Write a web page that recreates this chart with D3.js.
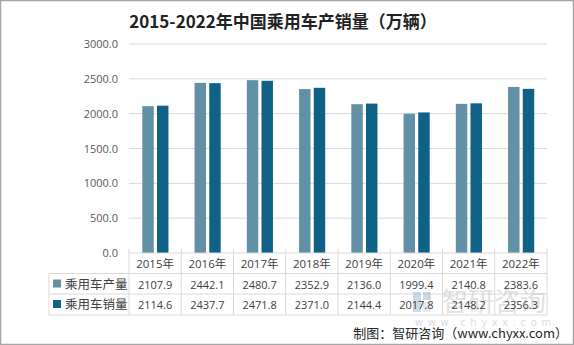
<!DOCTYPE html>
<html><head><meta charset="utf-8">
<script src="https://cdn.jsdelivr.net/npm/d3@7"></script>
<style>body{margin:0;background:#fff;}svg{display:block;}</style>
</head><body>
<svg id="c" width="574" height="345"></svg>
<script>
const years = ["2015年","2016年","2017年","2018年","2019年","2020年","2021年","2022年"];
const seriesNames = ["乘用车产量","乘用车销量"];
const production = [2107.9,2442.1,2480.7,2352.9,2136.0,1999.4,2140.8,2383.6];
const sales = [2114.6,2437.7,2471.8,2371.0,2144.4,2017.8,2148.2,2356.3];
const yTicks = [0,500,1000,1500,2000,2500,3000];
const colors = ["#6290a6","#0f6286"];
const values = [production, sales];

(function(){
const svg = d3.select("#c");
const font = "'Noto Sans CJK SC','Noto Sans',sans-serif";
svg.append("rect").attr("x",0.5).attr("y",0.5).attr("width",573).attr("height",344)
  .attr("fill","#fff").attr("stroke","#a6a6a6").attr("stroke-width",1.5);

svg.append("text").attr("x",283).attr("y",28).attr("text-anchor","middle")
  .attr("font-family",font).attr("font-weight","bold").attr("font-size",17).attr("fill","#222")
  .text("2015-2022年中国乘用车产销量（万辆）");

const pLeft=129,pRight=547,pTop=44,pBottom=253;
const x = d3.scaleBand().domain(years).range([pLeft,pRight]).padding(0);
const y = d3.scaleLinear().domain([0,3000]).range([pBottom,pTop]);
const bw = x.bandwidth();
const x1 = d3.scaleBand().domain(seriesNames).range([bw*0.255,bw*0.755]).paddingInner(0.22);

svg.append("g").selectAll("line").data(yTicks.slice(1)).join("line")
  .attr("x1",pLeft).attr("x2",pRight).attr("y1",d=>y(d)).attr("y2",d=>y(d))
  .attr("stroke","#d9d9d9").attr("stroke-width",1);

const yAxis = d3.axisLeft(y).tickValues(yTicks).tickFormat(d3.format(".1f")).tickSize(0).tickPadding(8);
const ga = svg.append("g").attr("transform",`translate(${pLeft},0)`).call(yAxis);
ga.select(".domain").remove();
ga.selectAll("text").attr("font-family","'Open Sans','DejaVu Sans',sans-serif").attr("font-size",11).attr("fill","#595959").attr("dx",-3);

seriesNames.forEach((s,i)=>{
  svg.append("g").selectAll("rect").data(values[i]).join("rect")
    .attr("x",(d,j)=>x(years[j])+x1(s)).attr("width",x1.bandwidth())
    .attr("y",d=>y(d)).attr("height",d=>pBottom-y(d)).attr("fill",colors[i]);
});

const rowY=[pBottom, pBottom+20.5, pBottom+41, pBottom+62];
const tbl = svg.append("g").attr("stroke","#d9d9d9").attr("stroke-width",1);
tbl.append("line").attr("x1",pLeft).attr("x2",pRight).attr("y1",pBottom).attr("y2",pBottom);
[1,2,3].forEach(r=>tbl.append("line").attr("x1",49).attr("x2",pRight).attr("y1",rowY[r]).attr("y2",rowY[r]));
tbl.append("line").attr("x1",49).attr("x2",49).attr("y1",rowY[1]).attr("y2",rowY[3]);
years.concat(["end"]).forEach((yr,j)=>{
  const xx = j<years.length ? x(yr) : pRight;
  tbl.append("line").attr("x1",xx).attr("x2",xx).attr("y1",pBottom-4).attr("y2",rowY[3]);
});

const wm = svg.append("g").attr("opacity",0.5);
wm.append("rect").attr("x",413).attr("y",292).attr("width",8).attr("height",20).attr("fill","#9fb6cf");
wm.append("rect").attr("x",423).attr("y",292).attr("width",8).attr("height",8).attr("fill","#9fb6cf");
wm.append("rect").attr("x",423).attr("y",302).attr("width",8).attr("height",10).attr("fill","#c8d6e4");
wm.append("text").attr("x",442).attr("y",311).attr("font-family",font).attr("font-size",26)
  .attr("fill","#c4c4c4").text("智研咨询");
wm.append("text").attr("x",415).attr("y",326).attr("font-family","'DejaVu Sans',sans-serif").attr("font-size",10)
  .attr("letter-spacing",4.6).attr("fill","#bbbbbb").text("www.chyxx.com");

const tfont="'Open Sans','Noto Sans CJK SC',sans-serif";
svg.append("g").selectAll("text").data(years).join("text")
  .attr("x",d=>x(d)+bw/2).attr("y",rowY[0]+15).attr("text-anchor","middle")
  .attr("font-family",tfont).attr("font-size",11.5).attr("fill","#404040").text(d=>d);
seriesNames.forEach((s,i)=>{
  const cy = rowY[i+1];
  svg.append("rect").attr("x",53).attr("y",cy+6).attr("width",8).attr("height",8).attr("fill",colors[i]);
  svg.append("text").attr("x",65).attr("y",cy+15).attr("font-family",font).attr("font-size",12.5)
    .attr("fill","#404040").text(s);
  svg.append("g").selectAll("text").data(values[i]).join("text")
    .attr("x",(d,j)=>x(years[j])+bw/2).attr("y",cy+15).attr("text-anchor","middle")
    .attr("font-family",tfont).attr("font-size",11).attr("fill","#404040").text(d=>d.toFixed(1));
});

svg.append("text").attr("x",568).attr("y",338).attr("text-anchor","end")
  .attr("font-family",font).attr("font-size",13).attr("fill","#262626")
  .text("制图：智研咨询（www.chyxx.com）");
})();
</script>
</body></html>
